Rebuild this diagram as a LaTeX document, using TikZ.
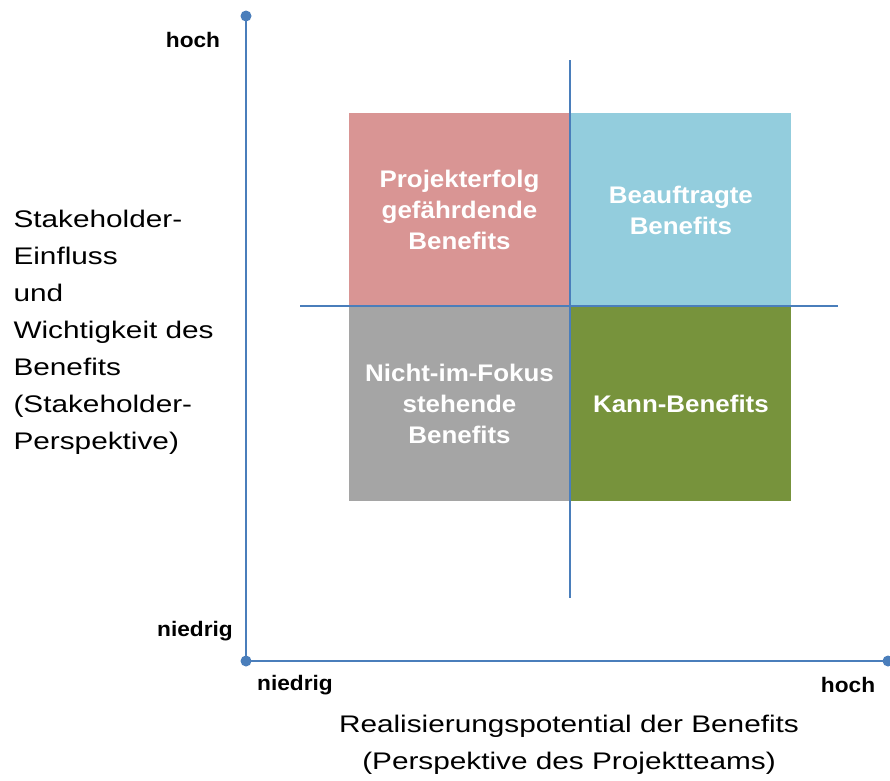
\documentclass[tikz,border=0pt]{standalone}
\usepackage{fontspec}
\setmainfont{Liberation Sans}
\newfontfamily\labelfont{Liberation Sans}[FakeStretch=1.24]
\newfontfamily\boldfont{Liberation Sans Bold}[FakeStretch=1.08]
\usetikzlibrary{positioning}

\definecolor{axisblue}{HTML}{4A7EBB}
\definecolor{quadred}{HTML}{D99594}
\definecolor{quadblue}{HTML}{93CDDD}
\definecolor{quadgrey}{HTML}{A5A5A5}
\definecolor{quadgreen}{HTML}{77933C}

\begin{document}
\begin{tikzpicture}[x=1pt, y=-1pt]
  \tikzstyle{quad} = [rectangle, inner sep=0pt, minimum width=221pt, minimum height=194pt,
                      text=white, align=center, font=\boldfont\fontsize{24}{31}\selectfont]
  \tikzstyle{dot} = [circle, fill=axisblue, inner sep=0pt, minimum size=11pt]
  \tikzstyle{tick} = [font=\boldfont\fontsize{21}{25}\selectfont]
  \tikzstyle{axislabel} = [align=center, font=\labelfont\fontsize{24}{37}\selectfont]
  \useasboundingbox (0,0) rectangle (890,780);

  % quadrants
  \node [quad, fill=quadred] (risk) at (459.5,210) {Projekterfolg\\gefährdende\\Benefits};
  \node [quad, fill=quadblue, right=0pt of risk] (ordered) {Beauftragte\\Benefits};
  \node [quad, fill=quadgrey, below=0pt of risk] (nofocus) {Nicht-im-Fokus\\stehende\\Benefits};
  \node [quad, fill=quadgreen, below=0pt of ordered] (optional) {Kann-Benefits};

  % cross lines
  \coordinate (ctop) at (570,60);
  \coordinate (cbottom) at (570,598);
  \coordinate (cleft) at (300,306);
  \coordinate (cright) at (838,306);
  \draw [axisblue, line width=1.5pt] (ctop) -- (cbottom);
  \draw [axisblue, line width=1.5pt] (cleft) -- (cright);

  % axes
  \node [dot] (origin) at (246,661) {};
  \node [dot] (ytip) at (246,16) {};
  \node [dot] (xtip) at (888,661) {};
  \draw [axisblue, line width=2pt] (ytip.center) -- (origin.center) -- (xtip.center);

  % tick labels
  \node [tick] (yhigh) at (193,40) {hoch};
  \node [tick] (ylow) at (195,631) {niedrig};
  \node [tick] (xlow) at (295,685) {niedrig};
  \node [tick] (xhigh) at (848,685) {hoch};

  % axis labels
  \node [axislabel, align=left, anchor=west] (ylabel) at (10,332)
    {Stakeholder-\\Einfluss\\und\\Wichtigkeit des\\Benefits\\(Stakeholder-\\Perspektive)};
  \node [axislabel] (xlabel) at (569,745)
    {Realisierungspotential der Benefits\\(Perspektive des Projektteams)};
\end{tikzpicture}
\end{document}
